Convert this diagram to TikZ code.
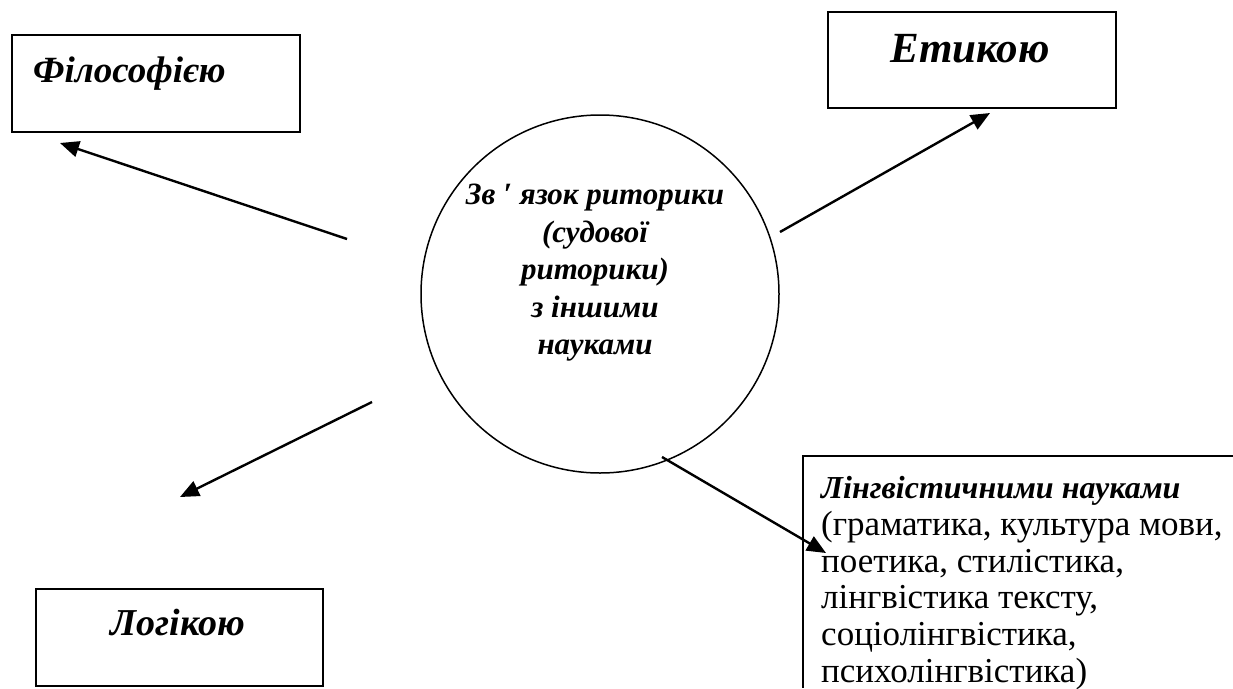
\documentclass[tikz,border=0pt]{standalone}
\usepackage{fontspec}
\setmainfont{Liberation Serif}
\usetikzlibrary{arrows.meta}
\begin{document}
\begin{tikzpicture}[x=1pt,y=-1pt,
  box/.style={draw, line width=1.8pt, rectangle, inner sep=0pt, anchor=north west},
  boxtext/.style={inner sep=0pt, font=\bfseries\itshape},
  arr/.style={line width=2.4pt, -{Triangle[length=19pt,width=16pt]}},
  ring/.style={draw, circle, line width=1.5pt, inner sep=0pt, minimum size=358pt}]
\useasboundingbox (0,0) rectangle (1233,688);
% boxes
\node[box, minimum width=288pt, minimum height=97pt] (fil) at (11,34) {};
\node[boxtext, anchor=base west, font=\fontsize{37}{44}\selectfont\bfseries\itshape] (filt) at (33,82) {Філософією};
\node[box, minimum width=288pt, minimum height=96pt] (eti) at (827,11) {};
\node[boxtext, anchor=base, font=\fontsize{43}{50}\selectfont\bfseries\itshape] (etit) at (970,62) {Етикою};
\node[box, minimum width=287pt, minimum height=97pt] (log) at (35,588) {};
\node[boxtext, anchor=base, font=\fontsize{38}{45}\selectfont\bfseries\itshape] (logt) at (178,635) {Логікою};
% partial box bottom right
\coordinate (lbtl) at (803,456);
\coordinate (lbtr) at (1233,456);
\coordinate (lbbl) at (803,688);
\draw[line width=1.8pt] (lbtr) -- (lbtl) -- (lbbl);
\node[inner sep=0pt, anchor=north west, align=left,
      font=\fontsize{35}{36.8}\selectfont] (lng) at (821,476)
  {{\fontsize{32}{36.8}\selectfont\textbf{\textit{Лінгвістичними науками}}}\\
   (граматика, культура мови,\\
   поетика, стилістика,\\
   лінгвістика тексту,\\
   соціолінгвістика,\\
   психолінгвістика)};
% circle
\node[ring] (c) at (600,294) {};
\node[inner sep=0pt, align=center,
      font=\fontsize{31}{37.5}\selectfont\bfseries\itshape] (ct) at (595,273)
  {Зв ′ язок риторики\\ (судової\\ риторики)\\ з іншими\\ науками};
% arrows
\coordinate (a1s) at (347,239); \coordinate (a1e) at (60,143);
\coordinate (a2s) at (780,232); \coordinate (a2e) at (990,113);
\coordinate (a3s) at (372,402); \coordinate (a3e) at (180,497);
\coordinate (a4s) at (662,457); \coordinate (a4e) at (826,553);
\draw[arr] (a1s) -- (a1e);
\draw[arr] (a2s) -- (a2e);
\draw[arr] (a3s) -- (a3e);
\draw[arr] (a4s) -- (a4e);
\end{tikzpicture}
\end{document}
